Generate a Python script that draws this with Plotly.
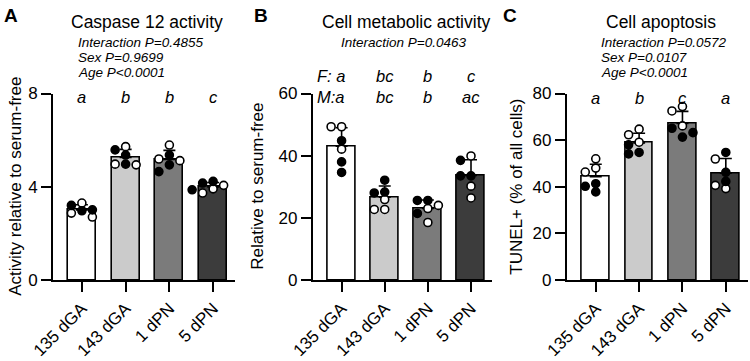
import numpy as np
import plotly.graph_objects as go

# ---------------- data ----------------
categories = ["135 dGA", "143 dGA", "1 dPN", "5 dPN"]
bar_colors = ["#ffffff", "#cbcbcb", "#7b7b7b", "#3c3c3c"]

casp_open = [[3.30, 2.87, 2.70], [5.72, 4.94, 4.97], [5.79, 5.19, 5.12], [4.06, 3.73, 3.91]]
casp_filled = [[3.01, 2.97, 3.20], [5.58, 5.36, 4.97], [5.36, 4.94, 4.65], [4.23, 4.16, 3.87]]

met_open = [[49.3, 49.3, 42.1], [25.9, 22.7, 22.7], [24.0, 23.0, 18.5], [39.9, 30.2, 26.4]]
met_filled = [[44.8, 38.0, 34.6], [32.1, 28.3, 28.0], [25.6, 25.6, 21.4], [38.5, 33.5, 33.5]]

apo_open = [[52.0, 46.3, 48.0], [64.7, 62.3, 59.1], [74.4, 72.5, 66.1], [51.9, 39.2, 40.6]]
apo_filled = [[41.3, 37.8, 40.2], [58.0, 54.1, 54.7], [65.1, 61.3, 63.2], [54.7, 46.2, 42.3]]

titles = ["Caspase 12 activity", "Cell metabolic activity", "Cell apoptosis"]
stats_A = ["Interaction P=0.4855", "Sex P=0.9699", "Age P<0.0001"]
stats_B = ["Interaction P=0.0463"]
stats_C = ["Interaction P=0.0572", "Sex P=0.0107", "Age P<0.0001"]
letters_A = ["a", "b", "b", "c"]
letters_B_F = ["a", "bc", "b", "c"]
letters_B_M = ["a", "bc", "b", "ac"]
letters_C = ["a", "b", "c", "a"]
ytitles = ["Activity relative to serum-free", "Relative to serum-free", "TUNEL+ (% of all cells)"]
yticks_A = [0, 4, 8]
yticks_B = [0, 20, 40, 60]
yticks_C = [0, 20, 40, 60, 80]

# ---------------- layout helpers ----------------
W, H = 750, 361
FONT = "Liberation Sans, Arial, Helvetica, sans-serif"
Y0, YTOP = 280.0, 93.5


def fx(x):
    return x / W


def fy(y):
    return 1 - y / H


ydom = [fy(Y0), fy(YTOP)]
panels = [
    dict(x0=53.0, x1=235.0, rng=[-0.66, 3.5], ymax=8, ticks=yticks_A, opn=casp_open, fil=casp_filled),
    dict(x0=312.7, x1=491.7, rng=[-0.67, 3.48], ymax=60, ticks=yticks_B, opn=met_open, fil=met_filled),
    dict(x0=566.7, x1=747.5, rng=[-0.67, 3.5], ymax=80, ticks=yticks_C, opn=apo_open, fil=apo_filled),
]


def beeswarm(values, ypx_per_unit, xpx_per_unit, step=10.5, thresh=7.0):
    """Spread points horizontally so markers don't overlap."""
    order = np.argsort(values)[::-1]
    placed = []
    offs = np.zeros(len(values))
    cands = [0, -1, 1, -2, 2, -3, 3]
    for i in order:
        yp = values[i] * ypx_per_unit
        for k in cands:
            xp = k * step
            ok = all(np.hypot(xp - a, yp - b) >= thresh for a, b in placed)
            if ok:
                placed.append((xp, yp))
                offs[i] = xp / xpx_per_unit
                break
    return offs


fig = go.Figure()
annotations = []

for p, pn in enumerate(panels):
    xa = "x" if p == 0 else f"x{p + 1}"
    ya = "y" if p == 0 else f"y{p + 1}"
    xpx = (pn["x1"] - pn["x0"]) / (pn["rng"][1] - pn["rng"][0])
    ypx = (Y0 - YTOP) / pn["ymax"]
    means, sds = [], []
    for g in range(4):
        vals = np.array(pn["opn"][g] + pn["fil"][g])
        means.append(vals.mean())
        sds.append(vals.std(ddof=1))
    fig.add_trace(go.Bar(
        x=list(range(4)), y=means, width=0.64,
        marker=dict(color=bar_colors, line=dict(color="black", width=1.6)),
        error_y=dict(type="data", symmetric=False, array=sds, arrayminus=[0] * 4,
                     color="black", thickness=1.6, width=6),
        xaxis=xa, yaxis=ya, showlegend=False, hoverinfo="skip"))
    for g in range(4):
        vals = np.array(pn["opn"][g] + pn["fil"][g])
        offs = beeswarm(vals, ypx, xpx)
        n_o = len(pn["opn"][g])
        fig.add_trace(go.Scatter(
            x=g + offs[:n_o], y=vals[:n_o], mode="markers",
            marker=dict(size=8, color="white", line=dict(color="black", width=1.6)),
            xaxis=xa, yaxis=ya, showlegend=False, hoverinfo="skip"))
        fig.add_trace(go.Scatter(
            x=g + offs[n_o:], y=vals[n_o:], mode="markers",
            marker=dict(size=8, color="black", line=dict(color="black", width=1.6)),
            xaxis=xa, yaxis=ya, showlegend=False, hoverinfo="skip"))

    axis_common = dict(showline=True, linecolor="black", linewidth=1.8, ticks="outside",
                       ticklen=10, tickwidth=1.8, tickcolor="black", showgrid=False,
                       zeroline=False, automargin=False,
                       tickfont=dict(family=FONT, size=17, color="black"))
    fig.update_layout(**{
        ("xaxis" if p == 0 else f"xaxis{p + 1}"): dict(
            domain=[fx(pn["x0"]), fx(pn["x1"])], range=pn["rng"], anchor=ya,
            tickvals=list(range(4)), ticktext=categories, tickangle=-45, **axis_common),
        ("yaxis" if p == 0 else f"yaxis{p + 1}"): dict(
            domain=ydom, range=[0, pn["ymax"]], anchor=xa, tickvals=pn["ticks"],
            **axis_common),
    })

# panel letters
for lab, x in zip(["A", "B", "C"], [10.5, 261, 510]):
    annotations.append(dict(text="<b>" + lab + "</b>", x=fx(x), y=fy(15.5), xref="paper", yref="paper",
                            showarrow=False, font=dict(family=FONT, size=19, color="black"),
                            xanchor="center", yanchor="middle", borderpad=0))
# titles
for t, x in zip(titles, [147, 406, 661]):
    annotations.append(dict(text=t, x=fx(x), y=fy(22), xref="paper", yref="paper", showarrow=False,
                            font=dict(family=FONT, size=17.5, color="black"),
                            xanchor="center", yanchor="middle"))
# stats
for lines, x, anchor in [(stats_A, 76, "left"), (stats_B, 404, "center"), (stats_C, 599, "left")]:
    for i, s in enumerate(lines):
        annotations.append(dict(text="<i>" + s + "</i>", x=fx(x), y=fy(42 + 15 * i),
                                xref="paper", yref="paper",
                                showarrow=False, font=dict(family=FONT, size=13.5, color="black"),
                                xanchor=anchor, yanchor="middle"))
# y titles
for t, x in zip(ytitles, [16, 258, 517]):
    annotations.append(dict(text=t, x=fx(x), y=fy((Y0 + YTOP) / 2), xref="paper", yref="paper",
                            showarrow=False, textangle=-90,
                            font=dict(family=FONT, size=17, color="black"),
                            xanchor="center", yanchor="middle"))


# group letters
def letter(txt, g, xa, ypix, xshift=0, anchor="center"):
    annotations.append(dict(text="<i>" + txt + "</i>", x=g, y=fy(ypix), xref=xa, yref="paper",
                            showarrow=False, xshift=xshift,
                            font=dict(family=FONT, size=16.5, color="black"),
                            xanchor=anchor, yanchor="middle"))


for g in range(4):
    letter(letters_A[g], g, "x", 97)
    letter(letters_C[g], g, "x3", 98)
    if g == 0:
        letter("F: " + letters_B_F[g], g, "x2", 76, xshift=5, anchor="right")
        letter("M:" + letters_B_M[g], g, "x2", 97, xshift=5, anchor="right")
    else:
        letter(letters_B_F[g], g, "x2", 76)
        letter(letters_B_M[g], g, "x2", 97)

fig.update_layout(template="none", width=W, height=H, margin=dict(l=0, r=0, t=0, b=0),
                  paper_bgcolor="white", plot_bgcolor="white", bargap=0, hovermode=False,
                  annotations=annotations, font=dict(family=FONT, color="black"))
# remove the browser's default 8px body margin so the figure sits at the window corner
fig.write_html("out.html", config={"displayModeBar": False},
               post_script="document.body.style.margin='0px';")
